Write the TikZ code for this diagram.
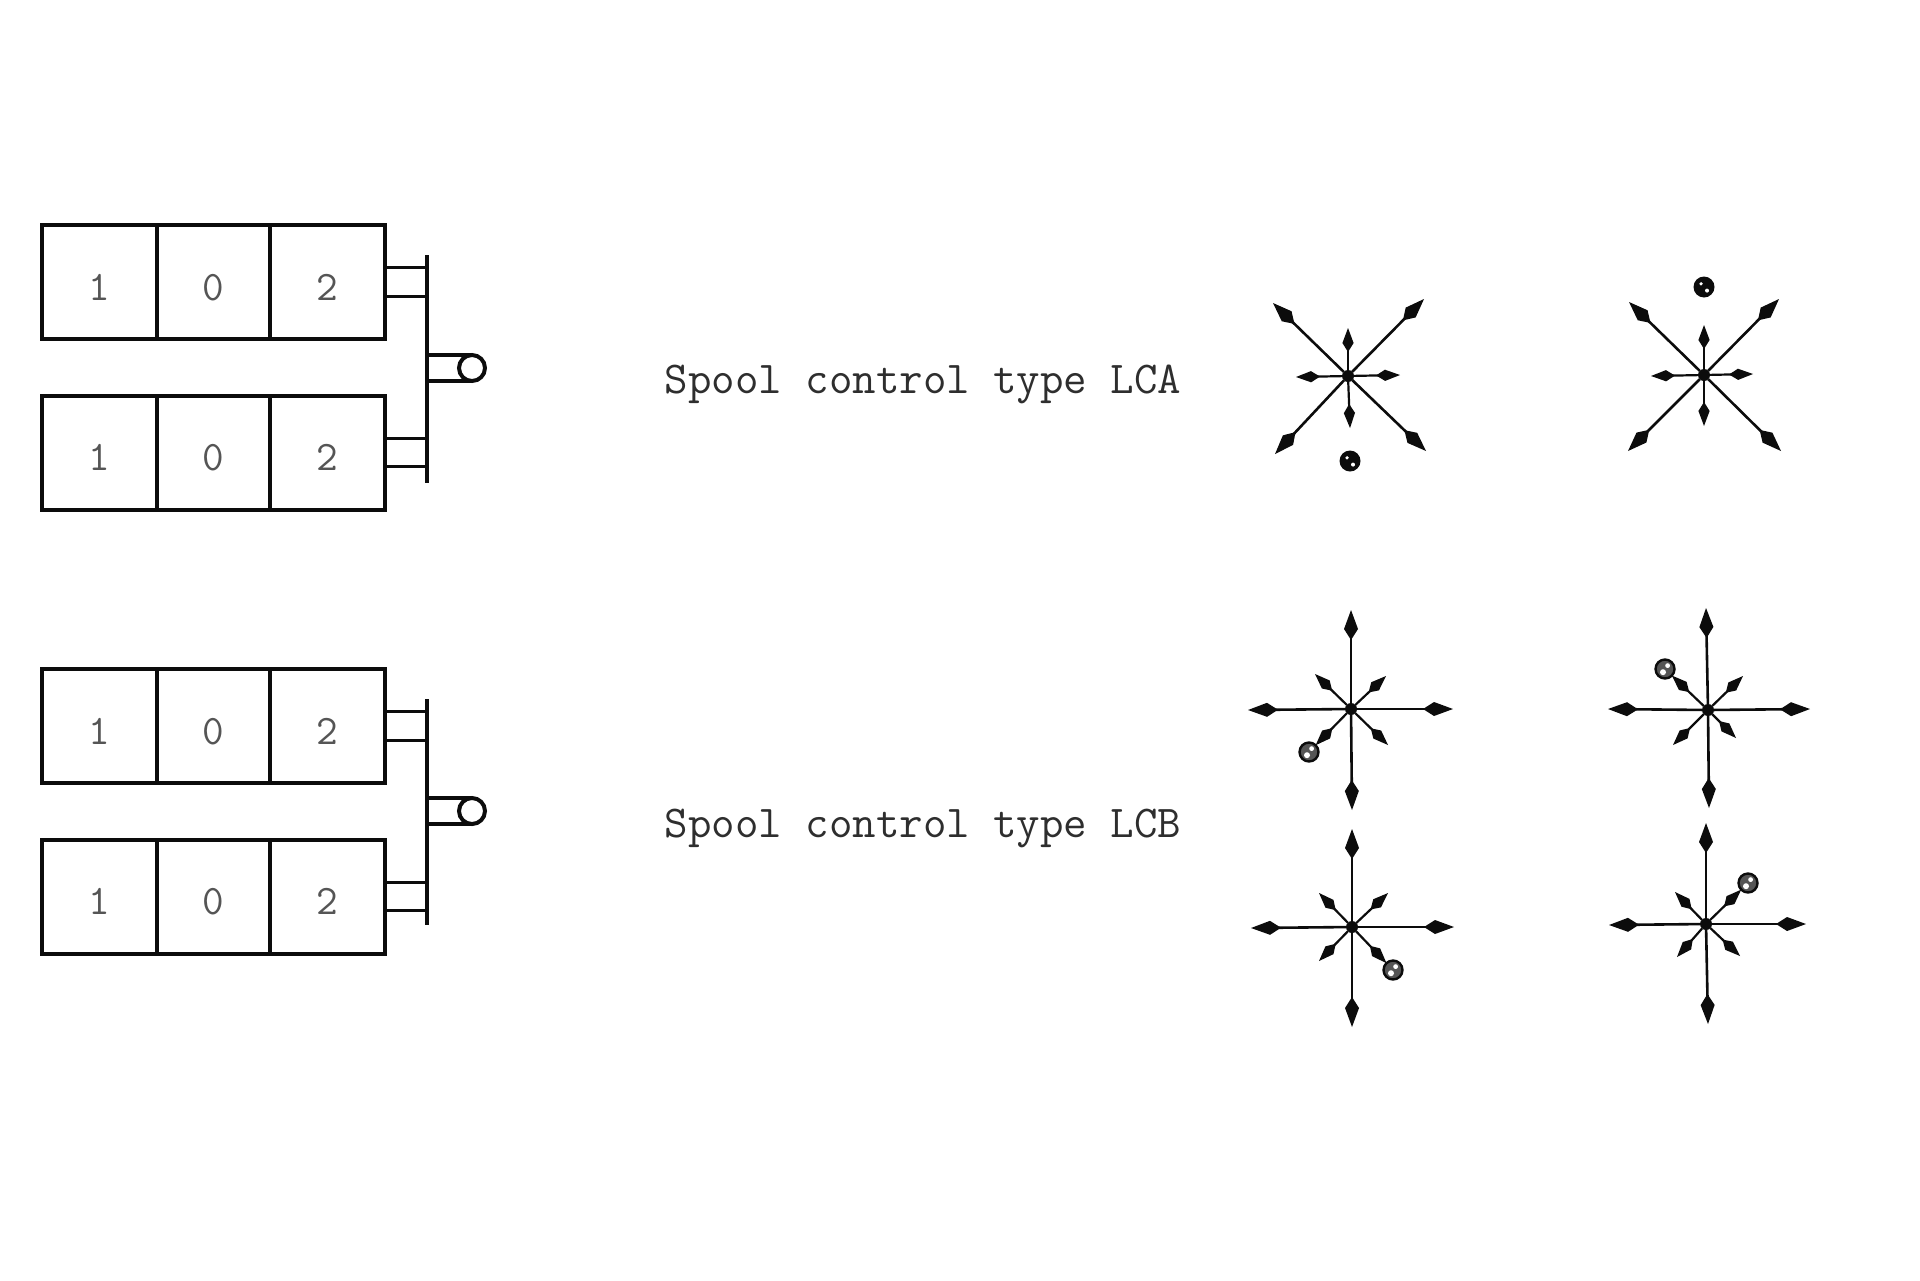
\documentclass[tikz,border=0pt]{standalone}
\usepackage{tikz}
\usetikzlibrary{arrows.meta,positioning,calc}
\definecolor{inkblack}{HTML}{0C0C0C}
\definecolor{labelgray}{HTML}{2E2E2E}
\definecolor{digitgray}{HTML}{555555}
\tikzset{
  cellbox/.style={draw=inkblack,line width=2pt,fill=white,minimum width=57pt,minimum height=57pt,inner sep=0pt,outer sep=0pt,text=digitgray,text height=18pt,text depth=0pt,font=\fontsize{21}{24}\ttfamily},
  rod/.style={draw=inkblack,line width=1.9pt},
  knob/.style={circle,draw=inkblack,line width=2pt,fill=white,minimum size=13pt,inner sep=0pt,outer sep=0pt},
  spoollabel/.style={text=labelgray,inner sep=0pt,font=\fontsize{22.8}{24}\ttfamily},
  hub/.style={circle,fill=inkblack,minimum size=6pt,inner sep=0pt,outer sep=0pt},
  arm/.style={-{Kite[length=15pt,width=7pt,inset=5.5pt]},draw=inkblack,fill=inkblack,line width=1.3pt},
  shortarm/.style={-{Kite[length=12pt,width=5.6pt,inset=4.5pt]},draw=inkblack,fill=inkblack,line width=1.1pt},
  ball/.style={circle,fill=inkblack,minimum size=10.5pt,inner sep=0pt,outer sep=0pt,path picture={
    \fill[white] ([xshift=1.5pt,yshift=-1.8pt]path picture bounding box.center) circle (1pt);
    \fill[white] ([xshift=-1.5pt,yshift=1.6pt]path picture bounding box.center) circle (0.9pt);}},
  ringball/.style={circle,draw=inkblack,line width=1.2pt,fill=inkblack!70,minimum size=9.5pt,inner sep=0pt,outer sep=0pt,path picture={
    \fill[white] ([xshift=-1pt,yshift=-1.6pt]path picture bounding box.center) circle (1.5pt);
    \fill[white] ([xshift=1.3pt,yshift=1.7pt]path picture bounding box.center) circle (1.2pt);}}
}
\begin{document}
\begin{tikzpicture}[x=0.5pt,y=-0.5pt]
  \useasboundingbox (0,0) rectangle (1920,1280);
  % upper spool pair
  \node[cellbox,minimum width=57.5pt] (a1) at (99.5,282) {1};
  \node[cellbox,minimum width=56.5pt] (a2) at (213.5,282) {0};
  \node[cellbox,minimum width=57.5pt] (a3) at (327.5,282) {2};
  \node[cellbox,minimum width=57.5pt] (b1) at (99.5,452.5) {1};
  \node[cellbox,minimum width=56.5pt] (b2) at (213.5,452.5) {0};
  \node[cellbox,minimum width=57.5pt] (b3) at (327.5,452.5) {2};
  \coordinate (bartop) at (427,255);
  \coordinate (barend) at (427,483);
  \node[knob] (knobtop) at (472,368) {};
  \draw[rod] ([yshift=7.25pt]a3.east) -- ([yshift=7.25pt]a3.east -| bartop);
  \draw[rod] ([yshift=-7.25pt]a3.east) -- ([yshift=-7.25pt]a3.east -| bartop);
  \draw[rod] ([yshift=7pt]b3.east) -- ([yshift=7pt]b3.east -| bartop);
  \draw[rod] ([yshift=-7pt]b3.east) -- ([yshift=-7pt]b3.east -| bartop);
  \draw[rod] (bartop) -- (barend);
  \draw[rod] (knobtop.north -| bartop) -- (knobtop.north);
  \draw[rod] (knobtop.south -| bartop) -- (knobtop.south);
  % lower spool pair
  \node[cellbox,minimum width=57.5pt] (c1) at (99.5,726) {1};
  \node[cellbox,minimum width=56.5pt] (c2) at (213.5,726) {0};
  \node[cellbox,minimum width=57.5pt] (c3) at (327.5,726) {2};
  \node[cellbox,minimum width=57.5pt] (d1) at (99.5,896.5) {1};
  \node[cellbox,minimum width=56.5pt] (d2) at (213.5,896.5) {0};
  \node[cellbox,minimum width=57.5pt] (d3) at (327.5,896.5) {2};
  \coordinate (barlowtop) at (427,699);
  \coordinate (barlowend) at (427,925);
  \node[knob] (knoblow) at (472,811) {};
  \draw[rod] ([yshift=7.25pt]c3.east) -- ([yshift=7.25pt]c3.east -| barlowtop);
  \draw[rod] ([yshift=-7.25pt]c3.east) -- ([yshift=-7.25pt]c3.east -| barlowtop);
  \draw[rod] ([yshift=7pt]d3.east) -- ([yshift=7pt]d3.east -| barlowtop);
  \draw[rod] ([yshift=-7pt]d3.east) -- ([yshift=-7pt]d3.east -| barlowtop);
  \draw[rod] (barlowtop) -- (barlowend);
  \draw[rod] (knoblow.north -| barlowtop) -- (knoblow.north);
  \draw[rod] (knoblow.south -| barlowtop) -- (knoblow.south);
  % labels
  \node[spoollabel] (lca) at (923,384) {Spool control type LCA};
  \node[spoollabel] (lcb) at (923,828) {Spool control type LCB};
  % LCA stars
  \node[hub] (hubA) at (1348,376) {};
  \node[ball] (ballA) at (1350,461) {};
  \coordinate (A1) at (1273,303); \coordinate (A2) at (1424,299); \coordinate (A3) at (1275,454); \coordinate (A4) at (1426,451);
  \coordinate (A5) at (1348,328); \coordinate (A6) at (1350,428); \coordinate (A7) at (1296,377); \coordinate (A8) at (1400,375);
  \draw[arm] (hubA) -- (A1); \draw[arm] (hubA) -- (A2); \draw[arm] (hubA) -- (A3); \draw[arm] (hubA) -- (A4);
  \draw[shortarm] (hubA) -- (A5); \draw[shortarm] (hubA) -- (A6); \draw[shortarm] (hubA) -- (A7); \draw[shortarm] (hubA) -- (A8);
  \node[hub] (hubB) at (1704,375) {};
  \node[ball] (ballB) at (1704,287) {};
  \coordinate (B1) at (1629,302); \coordinate (B2) at (1779,299); \coordinate (B3) at (1628,451); \coordinate (B4) at (1781,451);
  \coordinate (B5) at (1704,325); \coordinate (B6) at (1704,426); \coordinate (B7) at (1651,376); \coordinate (B8) at (1753,374);
  \draw[arm] (hubB) -- (B1); \draw[arm] (hubB) -- (B2); \draw[arm] (hubB) -- (B3); \draw[arm] (hubB) -- (B4);
  \draw[shortarm] (hubB) -- (B5); \draw[shortarm] (hubB) -- (B6); \draw[shortarm] (hubB) -- (B7); \draw[shortarm] (hubB) -- (B8);
  % LCB stars
  \node[hub] (hubC) at (1351,709) {};
  \node[ringball] (ballC) at (1309,752) {};
  \coordinate (C1) at (1351,610); \coordinate (C2) at (1352,810); \coordinate (C3) at (1248,710); \coordinate (C4) at (1453,709);
  \coordinate (C5) at (1315,674); \coordinate (C6) at (1386,676); \coordinate (C7) at (1388,745);
  \draw[arm] (hubC) -- (C1); \draw[arm] (hubC) -- (C2); \draw[arm] (hubC) -- (C3); \draw[arm] (hubC) -- (C4);
  \draw[shortarm] (hubC) -- (C5); \draw[shortarm] (hubC) -- (C6); \draw[shortarm] (hubC) -- (C7); \draw[shortarm] (hubC) -- (ballC);
  \node[hub] (hubD) at (1708,710) {};
  \node[ringball] (ballD) at (1665,669) {};
  \coordinate (D1) at (1706,608); \coordinate (D2) at (1709,808); \coordinate (D3) at (1608,709); \coordinate (D4) at (1810,709);
  \coordinate (D5) at (1743,676); \coordinate (D6) at (1736,738); \coordinate (D7) at (1673,745);
  \draw[arm] (hubD) -- (D1); \draw[arm] (hubD) -- (D2); \draw[arm] (hubD) -- (D3); \draw[arm] (hubD) -- (D4);
  \draw[shortarm] (hubD) -- (D5); \draw[shortarm] (hubD) -- (D6); \draw[shortarm] (hubD) -- (D7); \draw[shortarm] (hubD) -- (ballD);
  \node[hub] (hubE) at (1352,927) {};
  \node[ringball] (ballE) at (1393,970) {};
  \coordinate (E1) at (1352,829); \coordinate (E2) at (1352,1027); \coordinate (E3) at (1251,928); \coordinate (E4) at (1454,927);
  \coordinate (E5) at (1319,893); \coordinate (E6) at (1388,893); \coordinate (E7) at (1319,961);
  \draw[arm] (hubE) -- (E1); \draw[arm] (hubE) -- (E2); \draw[arm] (hubE) -- (E3); \draw[arm] (hubE) -- (E4);
  \draw[shortarm] (hubE) -- (E5); \draw[shortarm] (hubE) -- (E6); \draw[shortarm] (hubE) -- (E7); \draw[shortarm] (hubE) -- (ballE);
  \node[hub] (hubF) at (1706,924) {};
  \node[ringball] (ballF) at (1748,883) {};
  \coordinate (F1) at (1706,823); \coordinate (F2) at (1708,1024); \coordinate (F3) at (1609,925); \coordinate (F4) at (1806,924);
  \coordinate (F5) at (1675,892); \coordinate (F6) at (1677,957); \coordinate (F7) at (1740,956);
  \draw[arm] (hubF) -- (F1); \draw[arm] (hubF) -- (F2); \draw[arm] (hubF) -- (F3); \draw[arm] (hubF) -- (F4);
  \draw[shortarm] (hubF) -- (F5); \draw[shortarm] (hubF) -- (F6); \draw[shortarm] (hubF) -- (F7); \draw[shortarm] (hubF) -- (ballF);
\end{tikzpicture}
\end{document}
